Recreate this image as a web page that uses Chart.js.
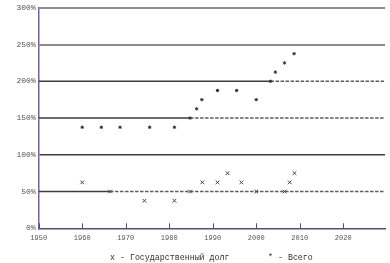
<!DOCTYPE html>
<html>
<head>
<meta charset="utf-8">
<script src="https://cdn.jsdelivr.net/npm/chart.js@4/dist/chart.umd.min.js"></script>
<style>
  html, body { margin: 0; padding: 0; background: #fff; }
  #wrap { position: relative; width: 390px; height: 263px; }
  #legend { position: absolute; left: 0; top: 253px; width: 390px; height: 10px;
    font: 8.3px "Liberation Mono", monospace; color: #333; white-space: pre; }
  #legend span { position: absolute; top: 0; }
</style>
</head>
<body>
<div id="wrap">
  <canvas id="chart" width="390" height="263"></canvas>
  <div id="legend"></div>
</div>
<script>
// data
const debtLabel = "Государственный долг";
const debtYears = [1960, 1966.4, 1974.3, 1981.2, 1984.8, 1987.6, 1991.1, 1993.4, 1996.6, 2000, 2006.5, 2007.7, 2008.8];
const debtValues = [62.5, 50, 37.5, 37.5, 50, 62.5, 62.5, 75, 62.5, 50, 50, 62.5, 75];

const totalLabel = "Всего";
const totalYears = [1960, 1964.4, 1968.7, 1975.5, 1981.2, 1984.8, 1986.3, 1987.5, 1991.1, 1995.5, 2000, 2003.3, 2004.4, 2006.5, 2008.7];
const totalValues = [137.5, 137.5, 137.5, 137.5, 137.5, 150, 162.5, 175, 187.5, 187.5, 175, 200, 212.5, 225, 237.5];

// horizontal levels: solid up to the break year, dashed after it
const levelValues = [50, 150, 200];
const levelBreaks = [1966.4, 1984.8, 2003.3];

const xMin = 1950, xMax = 2029.6;
const yTicks = [0, 50, 100, 150, 200, 250, 300];

const axisColor = "#5b4a6e";
const toPoints = (xs, ys) => xs.map((x, i) => ({ x: x, y: ys[i] }));

const levelSets = [];
levelValues.forEach((v, i) => {
  levelSets.push({
    data: [{ x: xMin, y: v }, { x: levelBreaks[i], y: v }],
    showLine: true, pointRadius: 0, borderColor: "#3c3c3c", borderWidth: 1.4
  });
  levelSets.push({
    data: [{ x: levelBreaks[i], y: v }, { x: xMax, y: v }],
    showLine: true, pointRadius: 0, borderColor: "#5e5e5e", borderWidth: 1.5,
    borderDash: [3.5, 1.5]
  });
});

// small tick marks pointing up from the x axis
const innerTicks = {
  id: "innerTicks",
  afterDraw(chart) {
    const x = chart.scales.x, ctx = chart.ctx;
    const b = chart.chartArea.bottom;
    ctx.save();
    ctx.strokeStyle = axisColor;
    ctx.lineWidth = 1;
    x.ticks.filter(t => t.value % 10 === 0).forEach(t => {
      const px = Math.round(x.getPixelForValue(t.value)) + 0.5;
      ctx.beginPath();
      ctx.moveTo(px, b - 5);
      ctx.lineTo(px, b);
      ctx.stroke();
    });
    ctx.restore();
  }
};

new Chart(document.getElementById("chart"), {
  type: "scatter",
  data: {
    datasets: [
      {
        label: debtLabel,
        data: toPoints(debtYears, debtValues),
        pointStyle: "crossRot", pointRadius: 2.6, borderColor: "#444", borderWidth: 1
      },
      {
        label: totalLabel,
        data: toPoints(totalYears, totalValues),
        pointStyle: "star", pointRadius: 1.7, borderColor: "#333", backgroundColor: "#333", borderWidth: 1
      },
      ...levelSets
    ]
  },
  options: {
    responsive: false,
    animation: false,
    layout: { padding: { left: 0, right: 3, top: 5, bottom: 0 } },
    plugins: { legend: { display: false }, tooltip: { enabled: false } },
    scales: {
      x: {
        type: "linear", min: xMin, max: xMax,
        grid: { display: false },
        border: { display: true, color: axisColor, width: 1.5 },
        ticks: {
          stepSize: 10, padding: -2, autoSkip: false, maxRotation: 0,
          color: "#555", font: { family: "Liberation Mono", size: 7 },
          callback: v => (v % 10 === 0 ? String(v) : "")
        },
        afterFit: s => { s.height = 263 - 228.3; }
      },
      y: {
        min: 0, max: 300,
        afterBuildTicks: s => { s.ticks = yTicks.map(v => ({ value: v })); },
        grid: {
          drawTicks: false,
          color: c => {
            const v = c.tick.value;
            if (v === 250 || v === 300) return "#8c8c8c";
            if (v === 100) return "#3c3c3c";
            return "rgba(0,0,0,0)";
          },
          lineWidth: c => (c.tick.value >= 250 ? 2 : 1.4)
        },
        border: { display: true, color: "#7b5e9e", width: 1.5 },
        ticks: { padding: 3, color: "#555", font: { family: "Liberation Mono", size: 8 }, callback: v => v + "%" },
        afterFit: s => { s.width = 38.7; }
      }
    }
  },
  plugins: [innerTicks]
});

const legend = document.getElementById("legend");
[["x", debtLabel, 110], ["*", totalLabel, 268]].forEach(([m, text, left]) => {
  const s = document.createElement("span");
  s.style.left = left + "px";
  s.textContent = m + " - " + text;
  legend.appendChild(s);
});
</script>
</body>
</html>
